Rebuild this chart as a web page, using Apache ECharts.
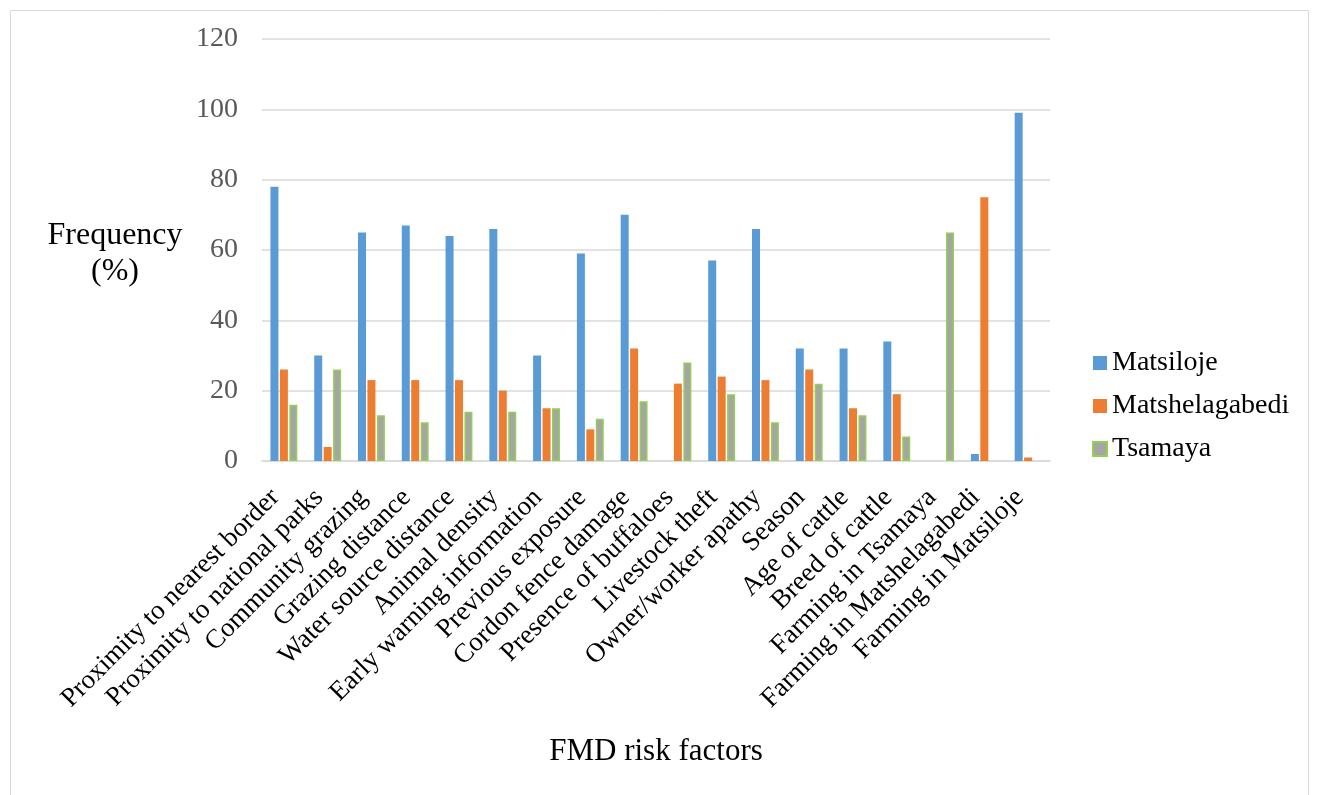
<!DOCTYPE html>
<html>
<head>
<meta charset="utf-8">
<script src="https://cdn.jsdelivr.net/npm/echarts@6/dist/echarts.min.js"></script>
<style>html,body{margin:0;padding:0;background:#fff;}#c{width:1319px;height:795px;}</style>
</head>
<body>
<div id="c"></div>
<script>
const categories = ["Proximity to nearest border","Proximity to national parks","Community grazing","Grazing distance","Water source distance","Animal density","Early warning information","Previous exposure","Cordon fence damage","Presence of buffaloes","Livestock theft","Owner/worker apathy","Season","Age of cattle","Breed of cattle","Farming in Tsamaya","Farming in Matshelagabedi","Farming in Matsiloje"];
const matsiloje =      [78,30,65,67,64,66,30,59,70, 0,57,66,32,32,34, 0, 2,99];
const matshelagabedi = [26, 4,23,23,23,20,15, 9,32,22,24,23,26,15,19, 0,75, 1];
const tsamaya =        [16,26,13,11,14,14,15,12,17,28,19,11,22,13, 7,65, 0, 0];
const yTicks = [0,20,40,60,80,100,120];

const font = '"Liberation Serif","Times New Roman",serif';
const noZeroBorder = arr => arr.map(v => v === 0 ? {value: 0, itemStyle: {borderWidth: 0}} : v);
const chart = echarts.init(document.getElementById('c'));
chart.setOption({
  animation: false,
  backgroundColor: '#ffffff',
  textStyle: {fontFamily: font},
  graphic: [
    {type:'rect', shape:{x:10.5,y:10.5,width:1298,height:800}, style:{fill:'none', stroke:'#d9d9d9', lineWidth:1}},
    {type:'text', x:115, y:236, style:{text:'Frequency', font:'32px ' + font, fill:'#000', align:'center', verticalAlign:'middle'}},
    {type:'text', x:115, y:272, style:{text:'(%)', font:'32px ' + font, fill:'#000', align:'center', verticalAlign:'middle'}}
  ],
  legend: {
    orient: 'vertical',
    left: 1087,
    top: 344,
    itemWidth: 14,
    itemHeight: 14,
    itemGap: 15,
    icon: 'rect',
    textStyle: {fontSize: 28, fontFamily: font, color: '#000'},
    data: ['Matsiloje','Matshelagabedi','Tsamaya']
  },
  grid: {left: 262, right: 269, top: 39, bottom: 334, containLabel: false},
  xAxis: {
    type: 'category',
    data: categories,
    name: 'FMD risk factors',
    nameLocation: 'middle',
    nameGap: 275,
    nameTextStyle: {fontSize: 31, fontFamily: font, color: '#000', verticalAlign: 'top'},
    axisLine: {lineStyle: {color: '#d9d9d9', width: 1.5}},
    axisTick: {show: false},
    axisLabel: {rotate: 45, interval: 0, fontSize: 27, fontFamily: font, color: '#000', margin: 24, padding: [0, 12, 0, 0]}
  },
  yAxis: {
    type: 'value',
    min: 0, max: 120, interval: 20,
    axisLine: {show: false},
    axisTick: {show: false},
    splitLine: {lineStyle: {color: '#d9d9d9', width: 1.5}},
    axisLabel: {fontSize: 28, fontFamily: font, color: '#595959', margin: 24,
      formatter: v => yTicks.includes(v) ? String(v) : ''}
  },
  series: [
    {name:'Matsiloje', type:'bar', data: matsiloje, barWidth: 8, barGap: '18%',
      itemStyle:{color:'#5b9bd5'}},
    {name:'Matshelagabedi', type:'bar', data: matshelagabedi, barWidth: 8, barGap: '18%',
      itemStyle:{color:'#ed7d31'}},
    {name:'Tsamaya', type:'bar', data: noZeroBorder(tsamaya), barWidth: 8, barGap: '18%',
      itemStyle:{color:'#a5a5a5', borderColor:'#92d050', borderWidth:1.5}}
  ]
});
</script>
</body>
</html>
